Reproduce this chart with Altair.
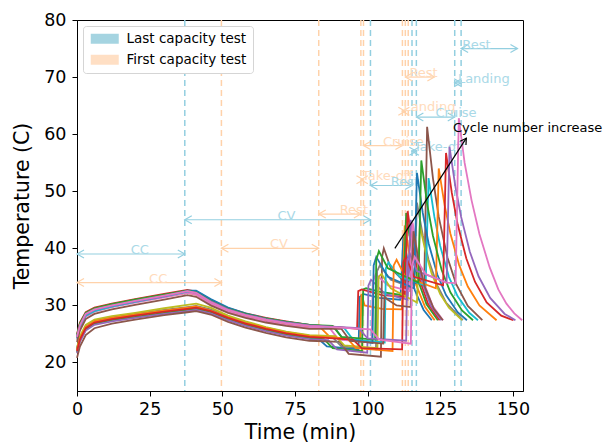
import altair as alt
import pandas as pd

# ---------------- data ----------------
tab10 = ["#1f77b4", "#ff7f0e", "#2ca02c", "#d62728", "#9467bd",
         "#8c564b", "#e377c2", "#7f7f7f", "#bcbd22", "#17becf"]

charge_t = [0, 1, 3, 6, 12, 20, 30, 38, 41, 46, 52, 58, 65, 72, 80]

charge_temps = [
    [22.5, 24.3, 26.2, 27.1, 27.7, 28.3, 29.0, 29.5, 29.7, 29.0, 27.7, 26.7, 25.8, 25.0, 24.4],
    [24.3, 26.3, 28.3, 29.1, 29.8, 30.6, 31.5, 32.2, 31.9, 30.4, 29.0, 28.1, 27.3, 26.7, 26.2],
    [21.8, 23.8, 25.8, 26.8, 27.4, 28.0, 28.7, 29.2, 29.4, 28.8, 27.6, 26.6, 25.7, 24.9, 24.3],
    [25.0, 27.0, 28.8, 29.6, 30.3, 31.1, 32.0, 32.7, 32.4, 30.9, 29.5, 28.6, 27.8, 27.2, 26.6],
    [21.6, 23.6, 25.6, 26.6, 27.2, 27.8, 28.5, 29.0, 29.2, 28.6, 27.4, 26.4, 25.5, 24.7, 24.1],
    [20.8, 22.8, 24.8, 26.0, 26.8, 27.5, 28.3, 28.8, 29.0, 28.4, 27.1, 26.1, 25.2, 24.4, 23.8],
    [24.0, 26.0, 28.0, 28.9, 29.7, 30.5, 31.4, 32.2, 31.9, 30.3, 28.9, 28.0, 27.2, 26.6, 26.1],
    [22.3, 24.3, 26.3, 27.3, 27.9, 28.5, 29.2, 29.7, 29.9, 29.3, 28.0, 27.0, 26.1, 25.3, 24.7],
    [22.6, 24.6, 26.6, 27.5, 28.1, 28.7, 29.5, 30.1, 30.3, 29.6, 28.2, 27.2, 26.2, 25.4, 24.8],
    [24.2, 26.2, 28.2, 29.0, 29.8, 30.6, 31.6, 32.4, 32.5, 31.0, 29.5, 28.5, 27.6, 27.0, 26.5],
    [24.6, 26.6, 28.6, 29.4, 30.1, 30.9, 31.8, 32.6, 32.6, 31.1, 29.6, 28.6, 27.7, 27.1, 26.6],
    [22.2, 24.2, 26.2, 27.2, 27.8, 28.4, 29.1, 29.6, 29.8, 29.1, 27.9, 26.9, 26.0, 25.2, 24.6],
    [24.8, 26.8, 28.7, 29.5, 30.2, 31.0, 31.9, 32.6, 32.3, 30.8, 29.4, 28.5, 27.7, 27.1, 26.6],
    [22.0, 24.0, 26.0, 27.0, 27.6, 28.2, 28.9, 29.4, 29.6, 29.0, 27.8, 26.8, 25.9, 25.1, 24.5],
    [24.4, 26.4, 28.4, 29.2, 29.9, 30.7, 31.6, 32.5, 32.2, 30.7, 29.3, 28.4, 27.6, 27.0, 26.5],
    [23.6, 25.6, 27.6, 28.5, 29.3, 30.1, 31.0, 31.8, 31.5, 30.0, 28.7, 27.8, 27.0, 26.4, 25.9],
    [24.5, 26.5, 28.5, 29.3, 30.0, 30.8, 31.7, 32.5, 32.2, 30.6, 29.2, 28.3, 27.5, 26.9, 26.4],
]

mission_times = [
    [83, 86, 96.9, 97.3, 98.5, 104, 111.3, 112.3, 114.3, 116.3, 119.3, 122.1],
    [84, 87, 97.5, 97.9, 99, 105, 111.8, 112.8, 114.8, 116.8, 119.8, 123.1],
    [85, 88, 98.1, 98.5, 99.5, 105, 112.3, 113.3, 115.3, 117.3, 120.3, 124.2],
    [90, 96.4, 96.8, 98, 105, 112.8, 113.8, 115.8, 117.8, 120.8, 124.8],
    [86.5, 89.5, 99.9, 100.3, 101.2, 106, 113.8, 114.8, 116.8, 118.8, 121.8, 125.4],
    [90.5, 93.5, 104.6, 105.0, 105.6, 108, 112, 119.5, 120.5, 122.5, 124.5, 127.5, 130.5, 134.5, 139.5],
    [87, 90, 101.4, 101.8, 102.8, 107, 114.5, 115.5, 117.5, 119.5, 122.5, 126.0],
    [88, 91, 102.9, 103.3, 104.2, 108, 116.0, 117.0, 119, 121, 124, 127, 132.8],
    [89, 92, 103.4, 103.8, 104.8, 108, 117.0, 118.0, 120, 122, 125, 128, 132.5],
    [92, 95, 105.9, 106.3, 107.2, 111, 120.0, 121.0, 123, 125, 128, 131, 135, 138.0],
    [88.5, 91.5, 101.7, 102.1, 103.0, 107, 116.0, 117.0, 119, 121, 124, 127, 131, 134.2],
    [93, 96, 108.6, 109.0, 110, 113, 123.5, 124.5, 126.5, 128.5, 131.5, 134.5, 138.5, 144.4],
    [88, 91, 102.6, 103.0, 103.9, 107, 117.5, 118.5, 120.5, 122.5, 125.5, 128.5, 132.5, 136.3],
    [95, 98, 111.9, 112.3, 113.2, 116, 126.0, 127.0, 129, 131, 134, 137, 141, 146, 150.2],
    [97, 100, 113.3, 113.7, 114.6, 117, 127.2, 128.2, 130.2, 132.2, 135.2, 138.2, 142.2, 147.2, 150.9],
    [91, 94, 105.4, 105.8, 107, 110, 114.8, 115.8, 117.8, 119.8, 122.8, 125.9],
    [101, 104, 114.9, 115.3, 116.2, 120, 127, 130.3, 131.4, 133.4, 135.8, 138.5, 142, 145, 147.8, 150.5, 153.2],
]

mission_temps = [
    [24.2, 22.8, 22.3, 31.5, 32.0, 31.3, 31.0, 42.0, 36.4, 32.6, 29.2, 27.4],
    [26.0, 24.5, 23.8, 32.0, 30.0, 29.4, 29.3, 44.0, 37.7, 33.5, 29.7, 27.4],
    [24.1, 22.5, 22.0, 32.8, 33.0, 32.3, 31.8, 46.2, 39.2, 34.5, 30.2, 27.4],
    [26.2, 25.9, 32.5, 32.8, 31.8, 31.5, 46.5, 39.4, 34.7, 30.3, 27.4],
    [23.9, 22.3, 21.7, 33.5, 34.5, 32.0, 31.0, 45.0, 38.4, 34.0, 29.9, 27.4],
    [23.6, 21.5, 21.0, 38.5, 40.0, 36.5, 34.5, 33.5, 61.3, 52.3, 45.5, 38.4, 33.7, 29.9, 27.4],
    [26.0, 24.0, 23.6, 34.0, 35.5, 33.5, 32.5, 44.5, 38.1, 33.8, 29.8, 27.4],
    [24.4, 22.8, 22.3, 36.0, 37.0, 34.5, 33.0, 48.0, 42.3, 38.0, 33.5, 30.5, 27.4],
    [24.6, 23.0, 22.5, 35.0, 35.5, 33.0, 30.5, 44.0, 39.3, 35.7, 32.0, 29.6, 27.4],
    [26.0, 24.0, 23.5, 36.5, 37.5, 35.0, 33.5, 52.3, 45.5, 40.4, 35.0, 31.6, 28.7, 27.4],
    [26.2, 24.2, 23.4, 37.0, 38.5, 35.0, 33.0, 53.2, 46.2, 40.9, 35.4, 31.8, 28.8, 27.4],
    [24.2, 22.5, 22.0, 37.0, 38.0, 35.0, 33.0, 54.0, 47.6, 42.6, 37.1, 33.3, 30.0, 27.4],
    [26.4, 24.5, 24.0, 38.0, 39.5, 36.5, 34.0, 55.4, 47.8, 42.2, 36.2, 32.3, 29.1, 27.4],
    [24.0, 22.5, 22.3, 37.5, 38.5, 35.0, 33.5, 56.7, 49.7, 44.2, 38.2, 34.1, 30.5, 28.2, 27.4],
    [26.0, 24.2, 23.8, 38.0, 39.0, 36.0, 34.0, 57.8, 50.9, 45.5, 39.4, 35.1, 31.3, 28.5, 27.4],
    [25.9, 23.8, 23.3, 31.5, 31.0, 30.0, 29.7, 43.0, 37.1, 33.1, 29.4, 27.4],
    [25.8, 24.0, 23.3, 37.0, 38.5, 35.5, 34.0, 33.9, 62.8, 55.0, 48.4, 42.5, 36.7, 32.8, 30.3, 28.6, 27.4],
]

# vertical dashed phase boundaries
last_lines = [37.1, 101.0, 115.3, 116.8, 130.0, 132.2]
first_lines = [49.7, 83.2, 97.7, 98.6, 112.0, 113.0, 114.0]

# phase arrows (start, end, level, label, label position)
last_start = [0, 37.1, 101.0, 115.3, 116.8, 130.0, 132.2]
last_end = [37.1, 101.0, 115.3, 116.8, 130.0, 132.2, 151.6]
last_level = [39, 45, 51, 57, 63, 69, 75]
last_label = ["CC", "CV", "Rest", "Take-off", "Cruise", "Landing", "Rest"]
last_label_x = [18.5, 69.0, 108.0, 116.0, 123.4, 131.1, 132.6]

first_start = [0, 49.7, 83.2, 97.7, 98.6, 112.0, 113.0]
first_end = [49.7, 83.2, 97.7, 98.6, 112.0, 113.0, 123.0]
first_level = [34, 40, 46, 52, 58, 64, 70]
first_label = ["CC", "CV", "Rest", "Take-off", "Cruise", "Landing", "Rest"]
first_label_x = [24.8, 66.4, 90.4, 98.1, 105.3, 112.4, 114.4]

legend_names = ["Last capacity test", "First capacity test"]

arrow_tail = (109.4, 40.0)
arrow_head = (134.0, 59.3)
arrow_text = "Cycle number increase"
arrow_text_pos = (129.4, 60.4)

# ---------------- styles ----------------
BLUE_LINE, BLUE_TEXT, BLUE_PATCH = "#93cfe0", "#a9d9e7", "#a5d4e1"
ORANGE_LINE, ORANGE_TEXT, ORANGE_PATCH = "#ffd2aa", "#ffdbbb", "#ffdfc4"
FONT = "DejaVu Sans"

xscale = alt.Scale(domain=[0, 153.5], nice=False, zero=False)
yscale = alt.Scale(domain=[15, 80], nice=False, zero=False)
xaxis = alt.Axis(values=[0, 25, 50, 75, 100, 125, 150], grid=False, title="Time (min)",
                 labelFlush=False, titlePadding=5, labelPadding=4)
yaxis = alt.Axis(values=[20, 30, 40, 50, 60, 70, 80], grid=False, title="Temperature (C)",
                 labelFlush=False, titlePadding=11, labelPadding=6)


def X(f):
    return alt.X(f, type="quantitative", scale=xscale, axis=xaxis)


def Y(f):
    return alt.Y(f, type="quantitative", scale=yscale, axis=yaxis)


# ---------------- tables ----------------
rows = []
for i in range(len(charge_temps)):
    ts = charge_t + mission_times[i]
    vs = charge_temps[i] + mission_temps[i]
    for j, (t, v) in enumerate(zip(ts, vs)):
        rows.append({"cycle": i, "t": t, "T": v, "ord": j, "col": tab10[i % 10]})
curves = pd.DataFrame(rows)

vlines = pd.DataFrame(
    [{"x": x, "col": ORANGE_LINE} for x in first_lines]
    + [{"x": x, "col": BLUE_LINE} for x in last_lines]
)

arrows = pd.DataFrame(
    [{"x1": a, "x2": b, "y": y, "lab": l, "tx": tx, "col": ORANGE_LINE, "tcol": ORANGE_TEXT}
     for a, b, y, l, tx in zip(first_start, first_end, first_level, first_label, first_label_x)]
    + [{"x1": a, "x2": b, "y": y, "lab": l, "tx": tx, "col": BLUE_LINE, "tcol": BLUE_TEXT}
       for a, b, y, l, tx in zip(last_start, last_end, last_level, last_label, last_label_x)]
)

cyc = pd.DataFrame({"t": [arrow_tail[0], arrow_head[0]], "T": [arrow_tail[1], arrow_head[1]]})
cyc_head = pd.DataFrame({"t": [arrow_head[0]], "T": [arrow_head[1]]})
cyc_text = pd.DataFrame({"t": [arrow_text_pos[0]], "T": [arrow_text_pos[1]], "lab": [arrow_text]})
leg = pd.DataFrame({"test": legend_names})

# ---------------- layers ----------------
vl = alt.Chart(vlines).mark_rule(strokeDash=[6, 4], strokeWidth=1.5).encode(
    x=X("x"), color=alt.Color("col:N", scale=None))

arr_line = alt.Chart(arrows).mark_rule(strokeWidth=1.2).encode(
    x=X("x1"), x2="x2", y=Y("y"), color=alt.Color("col:N", scale=None))
arr_left = alt.Chart(arrows).mark_point(
    shape="M1,-0.57L0,0L1,0.57", size=196, filled=False, strokeWidth=1.2, opacity=1).encode(
    x=X("x1"), y=Y("y"), color=alt.Color("col:N", scale=None))
arr_right = alt.Chart(arrows).mark_point(
    shape="M-1,-0.57L0,0L-1,0.57", size=196, filled=False, strokeWidth=1.2, opacity=1).encode(
    x=X("x2"), y=Y("y"), color=alt.Color("col:N", scale=None))
arr_text = alt.Chart(arrows).mark_text(
    align="left", baseline="alphabetic", fontSize=13, font=FONT).encode(
    x=X("tx"), y=Y("y"), text="lab:N", color=alt.Color("tcol:N", scale=None))

lines = alt.Chart(curves).mark_line(strokeWidth=1.8).encode(
    x=X("t"), y=Y("T"), detail="cycle:N", order="ord:Q",
    color=alt.Color("col:N", scale=None))

cyc_line = alt.Chart(cyc).mark_line(color="black", strokeWidth=1.2).encode(x=X("t"), y=Y("T"))
cyc_tip = alt.Chart(cyc_head).mark_point(
    shape="M-1,-0.57L0,0L-1,0.57", size=144, filled=False, color="black",
    strokeWidth=1.2, angle=303, opacity=1).encode(x=X("t"), y=Y("T"))
cyc_lab = alt.Chart(cyc_text).mark_text(
    align="left", baseline="alphabetic", fontSize=13, font=FONT, color="black").encode(
    x=X("t"), y=Y("T"), text="lab:N")

legend_layer = alt.Chart(leg).mark_square(opacity=0, size=1).encode(
    x=alt.value(0), y=alt.value(0),
    color=alt.Color("test:N",
                    scale=alt.Scale(domain=legend_names, range=[BLUE_PATCH, ORANGE_PATCH]),
                    legend=alt.Legend(
                        title=None, orient="top-left", offset=6,
                        symbolType="M-2.8,-1H2.8V1H-2.8Z", symbolSize=100,
                        symbolOffset=9,
                        symbolOpacity=1, symbolStrokeWidth=0,
                        labelFontSize=13.5, labelFont=FONT, labelColor="black",
                        labelOffset=15, padding=6, rowPadding=6,
                        strokeColor="#d5d5d5", fillColor="white", cornerRadius=3)))

chart = alt.layer(
    vl, arr_line, arr_left, arr_right, arr_text, lines, cyc_line, cyc_tip, cyc_lab, legend_layer
).resolve_scale(color="independent").properties(
    width=446, height=371,
    autosize=alt.AutoSizeParams(type="none"),
    padding={"left": 77, "top": 20, "right": 89, "bottom": 55},
).configure_view(stroke="black", strokeWidth=1).configure_axis(
    labelFont=FONT, titleFont=FONT, labelFontSize=17.5, titleFontSize=20.5,
    labelColor="black", titleColor="black", tickColor="black", domainColor="black",
    tickSize=5, titleFontWeight="normal",
)

chart.save("out.html", embed_options={"renderer": "svg", "actions": False})
